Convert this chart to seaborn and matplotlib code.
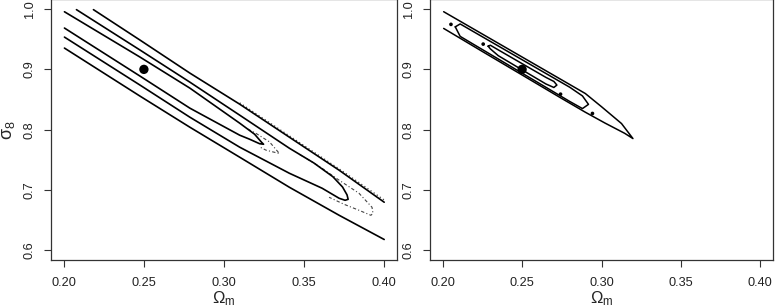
import matplotlib
matplotlib.use("Agg")
import matplotlib.pyplot as plt
import numpy as np
import pandas as pd
import seaborn as sns

# ---------------- data ----------------
xticks = [0.20, 0.25, 0.30, 0.35, 0.40]
yticks = [0.6, 0.7, 0.8, 0.9, 1.0]
xlabels = ["0.20", "0.25", "0.30", "0.35", "0.40"]
ylabels = ["0.6", "0.7", "0.8", "0.9", "1.0"]
true_om = [0.25]
true_s8 = [0.90]

# left panel: outer contour (two open branches)
L_outer_up_x = [0.2185, 0.2476, 0.2787, 0.3098, 0.3408, 0.3719, 0.4000]
L_outer_up_y = [0.9990, 0.9485, 0.8938, 0.8423, 0.7876, 0.7328, 0.6798]
L_outer_lo_x = [0.2004, 0.2476, 0.2787, 0.3098, 0.3408, 0.3719, 0.4000]
L_outer_lo_y = [0.9353, 0.8556, 0.8041, 0.7544, 0.7046, 0.6581, 0.6180]
# left panel: middle contour
L_mid_x = [0.2079, 0.2476, 0.2787, 0.3098, 0.3408, 0.3560, 0.3680, 0.3740, 0.3768, 0.3775,
           0.3756, 0.3719, 0.3613, 0.3408, 0.3098, 0.2787, 0.2476, 0.2004]
L_mid_y = [0.9990, 0.9320, 0.8788, 0.8241, 0.7693, 0.7450, 0.7220, 0.7050, 0.6920, 0.6846,
           0.6830, 0.6863, 0.7029, 0.7278, 0.7710, 0.8207, 0.8739, 0.9535]
# left panel: inner contour
L_in_x = [0.2004, 0.2476, 0.2787, 0.3098, 0.3191, 0.3234, 0.3247,
          0.3222, 0.3160, 0.3098, 0.2787, 0.2476, 0.2004]
L_in_y = [0.9955, 0.9203, 0.8689, 0.8108, 0.7925, 0.7793, 0.7759,
          0.7768, 0.7842, 0.7909, 0.8357, 0.8888, 0.9685]
# left panel: alternative (dash-dot / dotted) contours
L_dd1_x = [0.3150, 0.3201, 0.3284, 0.3346, 0.3263, 0.3222]
L_dd1_y = [0.8010, 0.7937, 0.7798, 0.7605, 0.7660, 0.7715]
L_dd2_x = [0.3470, 0.3594, 0.3719, 0.3843, 0.3924, 0.3930, 0.3917, 0.3843, 0.3750, 0.3656]
L_dd2_y = [0.7593, 0.7394, 0.7162, 0.6946, 0.6714, 0.6614, 0.6581, 0.6664, 0.6763, 0.6880]
L_dot_x = [0.3098, 0.3408, 0.3719, 0.4000]
L_dot_y = [0.8445, 0.7898, 0.7350, 0.6835]

# right panel: outer contour
R_outer_x = [0.2006, 0.2250, 0.2500, 0.2750, 0.2898, 0.3001, 0.3126, 0.3198,
             0.3146, 0.3022, 0.2898, 0.2750, 0.2500, 0.2250, 0.2006]
R_outer_y = [0.9956, 0.9585, 0.9205, 0.8825, 0.8600, 0.8379, 0.8102, 0.7853,
             0.7940, 0.8110, 0.8290, 0.8517, 0.8907, 0.9296, 0.9679]
# right panel: middle contour (closed)
R_mid_x = [0.2079, 0.2110, 0.2200, 0.2350, 0.2500, 0.2650, 0.2800, 0.2880, 0.2918,
           0.2880, 0.2800, 0.2650, 0.2500, 0.2350, 0.2200, 0.2110, 0.2079]
R_mid_y = [0.9705, 0.9753, 0.9616, 0.9388, 0.9160, 0.8932, 0.8704, 0.8560, 0.8420,
           0.8350, 0.8468, 0.8703, 0.8937, 0.9172, 0.9406, 0.9547, 0.9705]
# right panel: inner contour (closed)
R_in_x = [0.2286, 0.2300, 0.2350, 0.2500, 0.2650, 0.2700, 0.2719,
          0.2700, 0.2650, 0.2500, 0.2350, 0.2300, 0.2286]
R_in_y = [0.9385, 0.9400, 0.9323, 0.9095, 0.8867, 0.8800, 0.8740,
          0.8700, 0.8758, 0.8992, 0.9227, 0.9340, 0.9385]
R_pts_x = [0.2052, 0.2255, 0.2742, 0.2943]
R_pts_y = [0.9746, 0.9419, 0.8589, 0.8269]

# ---------------- styling ----------------
sns.set_style("ticks")
plt.rcParams["font.family"] = ["Liberation Sans", "DejaVu Sans"]
plt.rcParams["mathtext.fontset"] = "custom"
plt.rcParams["mathtext.rm"] = "Liberation Sans"
plt.rcParams["mathtext.it"] = "Liberation Sans:italic"

fig = plt.figure(figsize=(7.79, 3.08), dpi=100)
axL = fig.add_axes([51 / 779, 48 / 308, 346 / 779, 260.6 / 308])
axR = fig.add_axes([430 / 779, 48 / 308, 343 / 779, 260.6 / 308])


def line(ax, x, y, lw=1.2, ls="-", color="black"):
    d = pd.DataFrame({"x": x, "y": y})
    sns.lineplot(data=d, x="x", y="y", sort=False, estimator=None, ax=ax,
                 color=color, lw=lw, linestyle=ls)


# left panel
line(axL, L_dot_x, L_dot_y, lw=0.9, ls=(0, (1, 2)), color="#444444")
line(axL, L_dd1_x, L_dd1_y, lw=0.8, ls=(0, (3, 2, 1, 2)), color="#444444")
line(axL, L_dd2_x, L_dd2_y, lw=0.8, ls=(0, (3, 2, 1, 2)), color="#444444")
line(axL, L_outer_up_x, L_outer_up_y)
line(axL, L_outer_lo_x, L_outer_lo_y)
line(axL, L_mid_x, L_mid_y)
line(axL, L_in_x, L_in_y)
sns.scatterplot(x=true_om, y=true_s8, ax=axL, s=45, color="black", edgecolor="none")

# right panel
line(axR, R_outer_x, R_outer_y, lw=1.1)
line(axR, R_mid_x, R_mid_y, lw=1.1)
line(axR, R_in_x, R_in_y, lw=1.1)
sns.scatterplot(x=R_pts_x, y=R_pts_y, ax=axR, s=7, color="black", edgecolor="none")
sns.scatterplot(x=true_om, y=true_s8, ax=axR, s=45, color="black", edgecolor="none")

for ax in (axL, axR):
    ax.set_xlim(0.192, 0.408)
    ax.set_ylim(0.584, 1.016)
    ax.set_xticks(xticks)
    ax.set_xticklabels(xlabels)
    ax.set_yticks(yticks)
    ax.set_yticklabels(ylabels, rotation=90, va="center")
    ax.tick_params(direction="out", length=5, width=0.8, labelsize=9.2,
                   color="#333333", labelcolor="#222222")
    ax.tick_params(axis="x", pad=7.5)
    ax.tick_params(axis="y", pad=6)
    for s in ax.spines.values():
        s.set_color("#333333")
        s.set_linewidth(0.9)
    ax.set_xlabel("Ω$_{\\rm m}$", fontsize=12)
    ax.xaxis.set_label_coords(0.5, -0.114)
    ax.set_ylabel("")

axL.set_ylabel("σ$_{\\rm 8}$", fontsize=13)
axL.yaxis.set_label_coords(-0.098, 0.5)

fig.savefig("out.png", dpi=100)
